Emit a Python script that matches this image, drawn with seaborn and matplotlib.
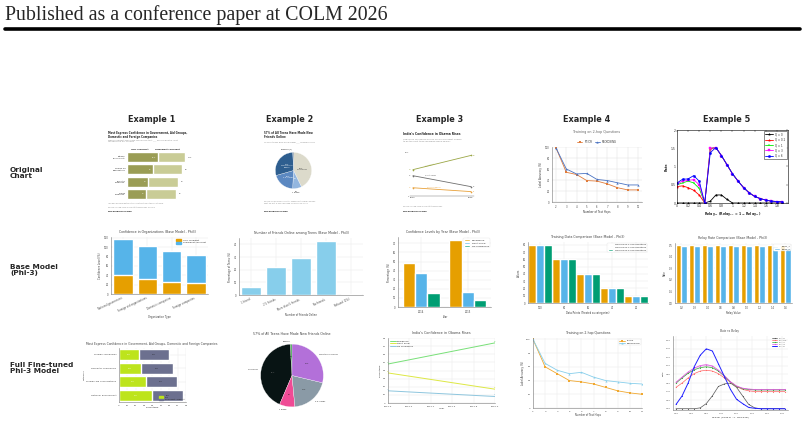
import matplotlib
matplotlib.use("Agg")
import matplotlib.pyplot as plt
import matplotlib.patches as mpatches
import seaborn as sns
import pandas as pd

W, H = 804, 423

# ---- data ----
org_cats = ["National government", "Foreign aid organizations", "Domestic companies", "Foreign companies"]
pew_labels = ["National\ngovernment*", "Foreign aid\norganizations", "Domestic\ncompanies", "Foreign\ncompanies"]
pew_very = [42, 35, 28, 26]
pew_somewhat = [36, 39, 41, 40]
base_very = [40, 33, 26, 24]
base_somewhat = [78, 70, 66, 60]
ft_cats = ["Foreign companies", "Domestic companies", "Foreign aid organizations", "National government"]
ft_very = [24, 26, 32, 39]
ft_somewhat = [36, 39, 37, 38]

friend_cats = ["1 friend", "2-5 friends", "More than 5 friends", "No friends", "Refused (1%)"]
friend_base = [6, 22, 29, 43, 1]
pie_orig_labels = ["43%\nNo friends", "8%", "20%\n2-5 friends", "29%\nMore than 5\nfriends", ""]
pie_orig_vals = [43, 8, 20, 29, 0.6]
pie_ft_labels = ["Refused", "No friends", "1 friend", "2-5 friends", "More than 5 friends"]
pie_ft_vals = [1, 43, 8, 20, 29]

years = [2014, 2015]
levels = ["Confidence", "Don't know", "No confidence"]
confidence = [48, 74]
dont_know = [37, 17]
no_conf = [15, 8]

hops = [2, 3, 4, 5, 6, 7, 8, 9, 10]
ft_icr = [98, 54, 50, 39, 38, 33, 26, 22, 22]
reckoning = [98, 60, 51, 52, 41, 39, 35, 31, 31]
hops_ft = [2, 3, 4, 5, 6, 7, 8, 9, 10, 11]
ft_icr_ft = [100, 60, 50, 40, 38, 35, 30, 25, 22, 20]
reck_ft = [100, 65, 55, 50, 52, 45, 40, 38, 36, 35]

data_points = ["100", "80", "60", "40", "20"]
train_series = ["Training on 2-hop Questions", "Training on 4-hop Questions", "Training on 6-hop Questions"]
train_vals = [80, 60, 40, 20, 10]

relay_cats = ["0.2", "0.3", "0.4", "0.6", "0.8", "1.0", "1.2", "1.4", "1.6"]
relay_rate1 = [0.5, 0.5, 0.5, 0.5, 0.5, 0.5, 0.5, 0.5, 0.5]
relay_rate2 = [0.49, 0.49, 0.49, 0.49, 0.49, 0.49, 0.49, 0.49, 0.48]

relay_x = [0, 0.1, 0.2, 0.3, 0.4, 0.5, 0.6, 0.7, 0.8, 0.9, 1.0, 1.1, 1.2, 1.3, 1.4, 1.5, 1.6, 1.7, 1.8, 1.9]
q_labels = ["Q = 0", "Q = 0.1", "Q = 1", "Q = 3", "Q = 6"]
rate_q0 = [0, 0, 0, 0, 0, 0, 0.05, 0.22, 0.22, 0.1, 0, 0, 0, 0, 0, 0, 0, 0, 0, 0]
rate_q01 = [0.45, 0.47, 0.42, 0.35, 0.22, 0, 1.48, 1.52, 1.3, 1.05, 0.8, 0.6, 0.42, 0.28, 0.18, 0.12, 0.08, 0.05, 0.04, 0.03]
rate_q1 = [0.5, 0.55, 0.6, 0.55, 0.4, 0, 1.5, 1.52, 1.3, 1.05, 0.8, 0.6, 0.42, 0.28, 0.18, 0.12, 0.08, 0.05, 0.04, 0.03]
rate_q3 = [0.52, 0.6, 0.62, 0.64, 0.5, 0, 1.5, 1.52, 1.3, 1.05, 0.8, 0.6, 0.42, 0.28, 0.18, 0.12, 0.08, 0.05, 0.04, 0.03]
rate_q6 = [0.55, 0.65, 0.66, 0.75, 0.6, 0, 1.38, 1.52, 1.3, 1.05, 0.8, 0.6, 0.42, 0.28, 0.18, 0.12, 0.08, 0.05, 0.04, 0.03]

relay_x2 = [0, 0.1, 0.2, 0.3, 0.4, 0.5, 0.6, 0.7, 0.8, 0.9, 1.0, 1.1, 1.2, 1.3, 1.4, 1.5, 1.6, 1.7, 1.8]
ft_q0 = [0, 0, 0, 0, 0.02, 0.12, 0.3, 0.52, 0.58, 0.6, 0.5, 0.3, 0.1, 0.02, 0, 0, 0, 0, 0]
ft_q01 = [0.5, 0.6, 0.72, 0.82, 0.88, 0.9, 0.88, 0.82, 0.72, 0.62, 0.52, 0.45, 0.42, 0.4, 0.4, 0.4, 0.4, 0.4, 0.4]
ft_q1 = [0.6, 0.72, 0.83, 0.91, 0.96, 0.98, 0.96, 0.88, 0.76, 0.62, 0.52, 0.47, 0.45, 0.44, 0.44, 0.44, 0.44, 0.44, 0.44]
ft_q3 = [0.62, 0.74, 0.86, 0.95, 1.01, 1.03, 1.0, 0.9, 0.77, 0.63, 0.53, 0.48, 0.46, 0.45, 0.45, 0.45, 0.45, 0.45, 0.45]
ft_q6 = [0.1, 0.3, 0.6, 0.98, 1.25, 1.4, 1.35, 1.05, 0.75, 0.45, 0.22, 0.12, 0.03, 0.01, 0, 0, 0, 0, 0]

sns.set_theme(style="whitegrid")
plt.rcParams["font.family"] = ["DejaVu Sans"]
plt.rcParams["axes.edgecolor"] = "#666666"

fig = plt.figure(figsize=(W / 100, H / 100), dpi=100)
fig.patch.set_facecolor("white")


def box(x0, y0, x1, y1):
    return [x0 / W, 1 - y1 / H, (x1 - x0) / W, (y1 - y0) / H]


def ftext(x, y, s, **kw):
    fig.text(x / W, 1 - y / H, s, **kw)


def tidy(ax, fs=2.2, grid=True):
    ax.tick_params(labelsize=fs, length=1, width=0.3, pad=0.8, colors="#444444")
    for sp in ax.spines.values():
        sp.set_linewidth(0.4)
        sp.set_color("#777777")
    ax.grid(grid, lw=0.3, color="#e6e6e6")
    ax.set_axisbelow(True)


def labels(ax, xl, yl, fs=2.2):
    ax.set_xlabel(xl, fontsize=fs, labelpad=1, color="#333333")
    ax.set_ylabel(yl, fontsize=fs, labelpad=1, color="#333333")


# ---- page header ----
ftext(5, 15, "Published as a conference paper at COLM 2026", fontsize=14.3,
      family=["Liberation Serif", "DejaVu Serif"], va="center")
fig.add_artist(plt.Line2D([5 / W, 800 / W], [1 - 29 / H, 1 - 29 / H], color="black", lw=2.6))

for x, t in zip([152, 290, 440, 587, 727], ["Example 1", "Example 2", "Example 3", "Example 4", "Example 5"]):
    ftext(x, 119, t, fontsize=5.9, weight="bold", ha="center", va="center")
for y, t in zip([173, 270, 368], ["Original\nChart", "Base Model\n(Phi-3)", "Full Fine-tuned\nPhi-3 Model"]):
    ftext(10, y, t, fontsize=5.3, weight="bold", ha="left", va="center", linespacing=1.1)

# ================= Row 1: original charts =================
# Example 1 (Pew bars)
pew_dark, pew_light = "#9a9d55", "#c9cc96"
ftext(108, 131, "Most Express Confidence in Government, Aid Groups,\nDomestic and Foreign Companies",
      fontsize=1.9, weight="bold", va="top", linespacing=1.1)
ftext(108, 139, "Median percent who have confidence that ___ will do what is right\nfor people in our country",
      fontsize=1.5, color="#888888", va="top")
ftext(140, 150, "Very confident", fontsize=1.5, ha="center", weight="bold")
ftext(167, 150, "Somewhat confident", fontsize=1.5, ha="center", weight="bold")
ax = fig.add_axes(box(127, 151, 186, 200))
pew_total = [a + b for a, b in zip(pew_very, pew_somewhat)]
sns.barplot(x=pew_total, y=pew_labels, color=pew_light, orient="h", saturation=1, width=0.8, ax=ax)
sns.barplot(x=pew_very, y=pew_labels, color=pew_dark, orient="h", saturation=1, width=0.8, ax=ax)
for i, (v, t) in enumerate(zip(pew_very, pew_total)):
    ax.text(v - 2, i, f"{v}%" if i == 0 else f"{v}", fontsize=1.4, color="white", ha="right", va="center")
    ax.text(t + 4, i, f"{t}%" if i == 0 else f"{t}", fontsize=1.4, color="#333333", ha="left", va="center")
ax.set_xlim(0, 80)
ax.tick_params(labelsize=1.4, length=0, pad=1)
ax.set_xticks([])
ax.grid(False)
sns.despine(ax=ax, left=True, bottom=True)
ax.set_xlabel("")
ftext(108, 204, "*Median across eight countries. Data not reported for Ethiopia.", fontsize=1.3, color="#888888")
ftext(108, 208, "Source: Spring 2013 Global Attitudes survey. Q45a-d.", fontsize=1.3, color="#888888")
ftext(108, 212, "PEW RESEARCH CENTER", fontsize=1.3, weight="bold")

# Example 2 (Pew pie)
ftext(264, 131, "57% of All Teens Have Made New\nFriends Online", fontsize=1.9, weight="bold", va="top", linespacing=1.1)
ftext(264, 142, "% of all teens who have made ___ friends online", fontsize=1.5, style="italic", color="#888888")
ftext(281, 149, "Refused (1)", fontsize=1.4)
ax = fig.add_axes(box(275, 152, 312, 189))
ax.pie(pie_orig_vals, colors=["#dcdacb", "#93b6df", "#5b88c1", "#2e5e8f", "#1d3f66"], startangle=90,
       counterclock=False, labels=pie_orig_labels, labeldistance=0.45,
       textprops=dict(fontsize=1.4, color="white", ha="center", va="center"),
       wedgeprops=dict(lw=0.2, edgecolor="white"))
ax.texts[0].set_color("#333333")
ax.set_xlim(-1.02, 1.02)
ax.set_ylim(-1.02, 1.02)
ftext(296, 191, "8%\n1 friend", fontsize=1.4, ha="center", va="top")
ftext(264, 201, "Source: Pew Research Center Teens Relationships Survey,\nSept. 25-Oct. 9, 2014 and Feb. 10-March 16, 2015", fontsize=1.3, color="#888888", va="top")
ftext(264, 212, "PEW RESEARCH CENTER", fontsize=1.3, weight="bold")

# Example 3 (Pew lines)
ftext(403, 134, "India's Confidence in Obama Rises", fontsize=2.2, weight="bold", va="center")
ftext(403, 139, "How much confidence do you have in President Obama\nto do the right thing regarding world affairs?",
      fontsize=1.5, style="italic", color="#888888", va="top")
ax = fig.add_axes(box(410, 151, 474, 196))
pew_line_cols = ["#9aa645", "#707070", "#e8a13a"]
for vals, col in zip([confidence, dont_know, no_conf], pew_line_cols):
    sns.lineplot(x=years, y=vals, color=col, lw=0.6, marker="o", markersize=1.2, markeredgewidth=0, ax=ax)
    ax.text(2014 - 0.03, vals[0], str(vals[0]), fontsize=1.4, color=col, ha="right", va="center")
    ax.text(2015 + 0.03, vals[1], str(vals[1]), fontsize=1.4, color=col, ha="left", va="center")
ax.text(2014.2, 53, "Confidence", fontsize=1.4, color=pew_line_cols[0], rotation=14)
ax.text(2014.2, 37, "Don't know", fontsize=1.4, color="#555555")
ax.text(2014.25, 15, "No confidence", fontsize=1.4, color=pew_line_cols[2])
ax.text(2013.93, 80, "80%", fontsize=1.4, ha="right", va="center", color="#555555")
ax.text(2013.93, 0, "0", fontsize=1.4, ha="right", va="center", color="#555555")
ax.set_xlim(2013.95, 2015.05)
ax.set_ylim(0, 82)
ax.set_xticks(years)
ax.set_xticklabels(["2014", "2015"])
ax.set_yticks([])
ax.tick_params(labelsize=1.5, length=0, pad=1)
ax.grid(False)
sns.despine(ax=ax, left=True)
ax.spines["bottom"].set_linewidth(0.3)
ftext(403, 207, "Source: Spring 2015 Global Attitudes survey.", fontsize=1.3, color="#888888")
ftext(403, 212, "PEW RESEARCH CENTER", fontsize=1.3, weight="bold")

# Example 4 (original hops chart)
ftext(597, 132, "Training on 2-hop Questions", fontsize=2.4, color="#666666", ha="center", va="center")
ax = fig.add_axes(box(552, 147, 642, 202))
sns.lineplot(x=hops, y=ft_icr, color="#e07c3b", marker="s", markersize=1.5, markeredgewidth=0, lw=0.6, label="FT-ICR", ax=ax)
sns.lineplot(x=hops, y=reckoning, color="#4a73c2", marker="^", markersize=1.6, markeredgewidth=0, lw=0.6, label="RECKONING", ax=ax)
ax.set_ylim(0, 100)
ax.set_yticks([0, 20, 40, 60, 80, 100])
ax.set_xticks(hops)
tidy(ax, fs=1.8)
ax.grid(True, lw=0.3, color="#dddddd")
sns.despine(ax=ax)
labels(ax, "Number of Test Hops", "Label Accuracy (%)", fs=1.9)
ax.legend(fontsize=1.8, ncol=2, frameon=False, loc="lower center", bbox_to_anchor=(0.5, 1.02),
          handlelength=2, columnspacing=1)

# Example 5 (original MATLAB chart)
ax = fig.add_axes(box(677, 130, 788, 203))
q_colors = ["black", "red", "#00ee00", "magenta", "blue"]
q_markers = ["*", "*", "+", "s", "o"]
for vals, col, mk, lab in zip([rate_q0, rate_q01, rate_q1, rate_q3, rate_q6], q_colors, q_markers, q_labels):
    sns.lineplot(x=relay_x, y=vals, color=col, marker=mk, markersize=1.6, markeredgewidth=0.3,
                 markeredgecolor=col, lw=0.6, label=lab, ax=ax)
ax.set_xlim(0, 2)
ax.set_ylim(0, 2)
ax.set_xticks([0, 0.2, 0.4, 0.6, 0.8, 1, 1.2, 1.4, 1.6, 1.8])
ax.set_xticklabels(["0", "0.2", "0.4", "0.6", "0.8", "1", "1.2", "1.4", "1.6", "1.8"])
ax.set_yticks([0, 0.5, 1, 1.5, 2])
ax.set_yticklabels(["0", "0.5", "1", "1.5", "2"])
ax.grid(False)
ax.tick_params(labelsize=2.2, direction="in", length=1.2, width=0.3, pad=1, top=True, right=True)
for sp in ax.spines.values():
    sp.set_linewidth(0.4)
    sp.set_color("black")
ax.set_xlabel(r"Relay$_{\alpha 1}$ (Relay$_{\alpha 2}$ = 1 $-$ Relay$_{\alpha 1}$)", fontsize=2.3, weight="bold", labelpad=1)
ax.set_ylabel("Rate", fontsize=2.3, weight="bold", labelpad=1)
leg = ax.legend(fontsize=1.9, loc="upper right", frameon=True, fancybox=False, edgecolor="black",
                handlelength=3, borderpad=0.4, labelspacing=0.5)
leg.get_frame().set_linewidth(0.4)

# ================= Row 2: base model =================
c_or, c_bl, c_gr = "#E69F00", "#56B4E9", "#009E73"

# Example 1
ftext(158, 232, "Confidence in Organizations (Base Model - Phi3)", fontsize=2.3, color="#444444", ha="center", va="center")
ax = fig.add_axes(box(111, 237, 208, 294))
base_total = [a + b for a, b in zip(base_very, base_somewhat)]
sns.barplot(x=org_cats, y=base_total, color=c_bl, saturation=1, width=0.8, ax=ax)
sns.barplot(x=org_cats, y=base_very, color=c_or, saturation=1, width=0.8, ax=ax)
ax.set_ylim(0, 122)
ax.set_yticks([0, 20, 40, 60, 80, 100, 120])
tidy(ax, fs=1.8, grid=False)
sns.despine(ax=ax)
ax.tick_params(axis="x", rotation=25)
for t in ax.get_xticklabels():
    t.set_ha("right")
labels(ax, "Organization Type", "Confidence Level (%)", fs=1.8)
ax.legend(handles=[mpatches.Patch(color=c_or, label="Very confident"),
                   mpatches.Patch(color=c_bl, label="Somewhat confident")],
          fontsize=1.6, loc="upper right", frameon=False, handlelength=2.5, handleheight=0.8)

# Example 2
ftext(302, 233, "Number of Friends Online among Teens (Base Model - Phi3)", fontsize=2.3, color="#444444", ha="center", va="center")
ax = fig.add_axes(box(239, 238, 363, 295))
sns.barplot(x=friend_cats, y=friend_base, color="#87ceeb", saturation=1, width=0.8, ax=ax)
ax.set_ylim(0, 45)
ax.set_yticks([0, 10, 20, 30, 40])
tidy(ax, fs=1.8)
sns.despine(ax=ax)
ax.tick_params(axis="x", rotation=25)
for t in ax.get_xticklabels():
    t.set_ha("right")
labels(ax, "Number of Friends Online", "Percentage of Teens (%)", fs=1.8)

# Example 3
ftext(443, 232, "Confidence Levels by Year (Base Model - Phi3)", fontsize=2.3, color="#444444", ha="center", va="center")
ax = fig.add_axes(box(398, 237, 491, 307))
obama_df = pd.DataFrame({
    "Year": [str(y) for y in years for _ in levels],
    "Level": levels * len(years),
    "Pct": [v for i in range(len(years)) for v in (confidence[i], dont_know[i], no_conf[i])],
})
sns.barplot(data=obama_df, x="Year", y="Pct", hue="Level", palette=[c_or, c_bl, c_gr], saturation=1, ax=ax)
ax.set_ylim(0, 77)
ax.set_yticks([0, 10, 20, 30, 40, 50, 60, 70])
tidy(ax, fs=1.8)
sns.despine(ax=ax)
labels(ax, "Year", "Percentage (%)", fs=1.8)
ax.legend(fontsize=1.7, loc="upper right", frameon=True, edgecolor="#dddddd", handlelength=2.5, handleheight=0.8,
          borderpad=0.3).get_frame().set_linewidth(0.3)

# Example 4
ftext(588, 237, "Training Data Comparison (Base Model - Phi3)", fontsize=2.3, color="#444444", ha="center", va="center")
ax = fig.add_axes(box(528, 242, 648, 303))
train_df = pd.DataFrame({
    "Points": [p for _ in train_series for p in data_points],
    "Series": [s for s in train_series for _ in data_points],
    "Value": [v for _ in train_series for v in train_vals],
})
sns.barplot(data=train_df, x="Points", y="Value", hue="Series", palette=[c_or, c_bl, c_gr], saturation=1,
            width=1.0, ax=ax)
ax.set_ylim(0, 84)
ax.set_yticks([0, 10, 20, 30, 40, 50, 60, 70, 80])
tidy(ax, fs=1.8)
sns.despine(ax=ax)
labels(ax, "Data Points (Treated as categories)", "Values", fs=1.8)
ax.legend(fontsize=1.6, loc="upper right", frameon=True, edgecolor="#dddddd", handlelength=2.5, handleheight=0.8,
          borderpad=0.3).get_frame().set_linewidth(0.3)

# Example 5
ftext(733, 238, "Relay Rate Comparison (Base Model - Phi3)", fontsize=2.3, color="#444444", ha="center", va="center")
ax = fig.add_axes(box(675, 243, 792, 303))
relay_df = pd.DataFrame({
    "Relay": relay_cats * 2,
    "Series": ["Relay_1"] * len(relay_cats) + ["Relay_2"] * len(relay_cats),
    "Rate": relay_rate1 + relay_rate2,
})
sns.barplot(data=relay_df, x="Relay", y="Rate", hue="Series", palette=[c_or, c_bl], saturation=1, width=0.8, ax=ax)
ax.set_ylim(0, 0.52)
ax.set_yticks([0, 0.1, 0.2, 0.3, 0.4, 0.5])
tidy(ax, fs=1.8)
sns.despine(ax=ax)
labels(ax, "Relay Value", "Rate", fs=1.8)
ax.legend(fontsize=1.6, loc="upper right", frameon=True, edgecolor="#dddddd", handlelength=2.5, handleheight=0.8,
          borderpad=0.3).get_frame().set_linewidth(0.3)

# ================= Row 3: full fine-tuned =================
# Example 1
ftext(152, 344, "Most Express Confidence in Government, Aid Groups, Domestic and Foreign Companies", fontsize=2.2,
      color="#444444", ha="center", va="center")
ax = fig.add_axes(box(119, 348, 186, 402))
ft_total = [a + b for a, b in zip(ft_very, ft_somewhat)]
sns.barplot(x=ft_total, y=ft_cats, color="#6c708f", orient="h", saturation=1, width=0.85, ax=ax)
sns.barplot(x=ft_very, y=ft_cats, color="#bde41c", orient="h", saturation=1, width=0.85, ax=ax)
for i, (v, s) in enumerate(zip(ft_very, ft_somewhat)):
    ax.text(v / 2, i, f"{v}%", fontsize=1.3, color="white", ha="center", va="center")
    ax.text(v + s / 2, i, f"{s}%", fontsize=1.3, color="#222222", ha="center", va="center")
ax.set_xlim(0, 80)
ax.set_xticks([0, 10, 20, 30, 40, 50, 60, 70, 80])
tidy(ax, fs=1.7)
sns.despine(ax=ax)
labels(ax, "Percentage", "Category", fs=1.7)
ax.legend(handles=[mpatches.Patch(color="#bde41c", label="Very"),
                   mpatches.Patch(color="#6c708f", label="Somewhat confident")],
          fontsize=1.4, loc="lower right", frameon=False, handlelength=2, handleheight=0.8)

# Example 2
ftext(292, 334, "57% of All Teens Have Made New Friends Online", fontsize=2.3, color="#444444", ha="center", va="center")
ax = fig.add_axes(box(260, 343, 324, 408))
wedges, txts, pcts = ax.pie(pie_ft_vals, colors=["#2b9b3a", "#081414", "#ef4b95", "#8a9aa6", "#b370d9"],
                            startangle=90, labels=pie_ft_labels, autopct="%d%%", pctdistance=0.6, labeldistance=1.1,
                            textprops=dict(fontsize=1.4, color="#222222"), wedgeprops=dict(lw=0.2, edgecolor="white"))
pcts[1].set_color("#777777")
ax.set_xlim(-1.02, 1.02)
ax.set_ylim(-1.02, 1.02)

# Example 3
ftext(441, 333, "India's Confidence in Obama Rises", fontsize=2.4, color="#444444", ha="center", va="center")
ax = fig.add_axes(box(388, 338, 495, 403))
ft_line_cols = ["#78e078", "#dde844", "#8ec6de"]
for vals, col, lab in zip([confidence, dont_know, no_conf], ft_line_cols, levels):
    sns.lineplot(x=years, y=vals, color=col, lw=0.7, label=lab, ax=ax)
    ax.text(years[0], vals[0] + 1.5, str(vals[0]), fontsize=1.4, color=col, ha="center")
    ax.text(years[1], vals[1] + 1.5, str(vals[1]), fontsize=1.4, color=col, ha="center")
ax.set_xlim(2014, 2015)
ax.set_ylim(0, 80)
ax.set_xticks([2014.0, 2014.2, 2014.4, 2014.6, 2014.8, 2015.0])
ax.set_xticklabels(["2014.0", "2014.2", "2014.4", "2014.6", "2014.8", "2015.0"])
ax.set_yticks([0, 10, 20, 30, 40, 50, 60, 70, 80])
tidy(ax, fs=1.7)
sns.despine(ax=ax)
labels(ax, "Year", "Percentage", fs=1.7)
ax.legend(fontsize=1.6, loc="upper left", frameon=False, handlelength=2.5)

# Example 4
ftext(588, 333, "Training on 2-hop Questions", fontsize=2.3, color="#444444", ha="center", va="center")
ax = fig.add_axes(box(533, 338, 642, 408))
sns.lineplot(x=hops_ft, y=ft_icr_ft, color="#f0a830", marker="s", markersize=1.5, markeredgewidth=0, lw=0.6, label="FT-ICR", ax=ax)
sns.lineplot(x=hops_ft, y=reck_ft, color="#87ceeb", marker="^", markersize=1.5, markeredgewidth=0, lw=0.6, label="RECKONING", ax=ax)
ax.set_xlim(2, 11)
ax.set_ylim(0, 102)
ax.set_xticks(hops_ft)
ax.set_yticks([0, 20, 40, 60, 80, 100])
tidy(ax, fs=1.7)
sns.despine(ax=ax)
labels(ax, "Number of Test Hops", "Label Accuracy (%)", fs=1.8)
ax.legend(fontsize=1.6, loc="upper right", frameon=True, edgecolor="#dddddd", handlelength=2.5,
          borderpad=0.3).get_frame().set_linewidth(0.3)

# Example 5
ftext(730, 331, "Rate vs Relay", fontsize=2.4, color="#444444", ha="center", va="center",
      family=["Liberation Serif", "DejaVu Serif"])
ax = fig.add_axes(box(673, 336, 788, 410))
ft_q_cols = ["#555555", "#ff6666", "#33aa33", "#dd55dd", "#2222ff"]
for vals, col, lab in zip([ft_q0, ft_q01, ft_q1, ft_q3, ft_q6], ft_q_cols, q_labels):
    sns.lineplot(x=relay_x2, y=vals, color=col, lw=0.7 if lab == "Q = 6" else 0.5, marker="o",
                 markersize=0.8, markeredgewidth=0, label=lab, ax=ax)
ax.fill_between(relay_x2, [v - 0.02 for v in ft_q3], [v + 0.02 for v in ft_q3], color="#dd55dd", alpha=0.25, lw=0)
ax.set_xlim(-0.05, 1.85)
ax.set_ylim(-0.03, 1.7)
ax.set_xticks([0, 0.25, 0.5, 0.75, 1.0, 1.25, 1.5, 1.75])
ax.set_xticklabels(["0.00", "0.25", "0.50", "0.75", "1.00", "1.25", "1.50", "1.75"])
ax.set_yticks([0, 0.2, 0.4, 0.6, 0.8, 1.0, 1.2, 1.4, 1.6])
ax.set_yticklabels(["0.00", "0.20", "0.40", "0.60", "0.80", "1.00", "1.20", "1.40", "1.60"])
tidy(ax, fs=1.6)
sns.despine(ax=ax)
labels(ax, r"Relay$_{\alpha 1}$ (Relay$_{\alpha 2}$ = 1 $-$ Relay$_{\alpha 1}$)", "Rate", fs=1.7)
ax.legend(fontsize=1.4, loc="upper right", frameon=False, handlelength=2.5, labelspacing=0.3)

fig.savefig("out.png", dpi=100, facecolor="white")
